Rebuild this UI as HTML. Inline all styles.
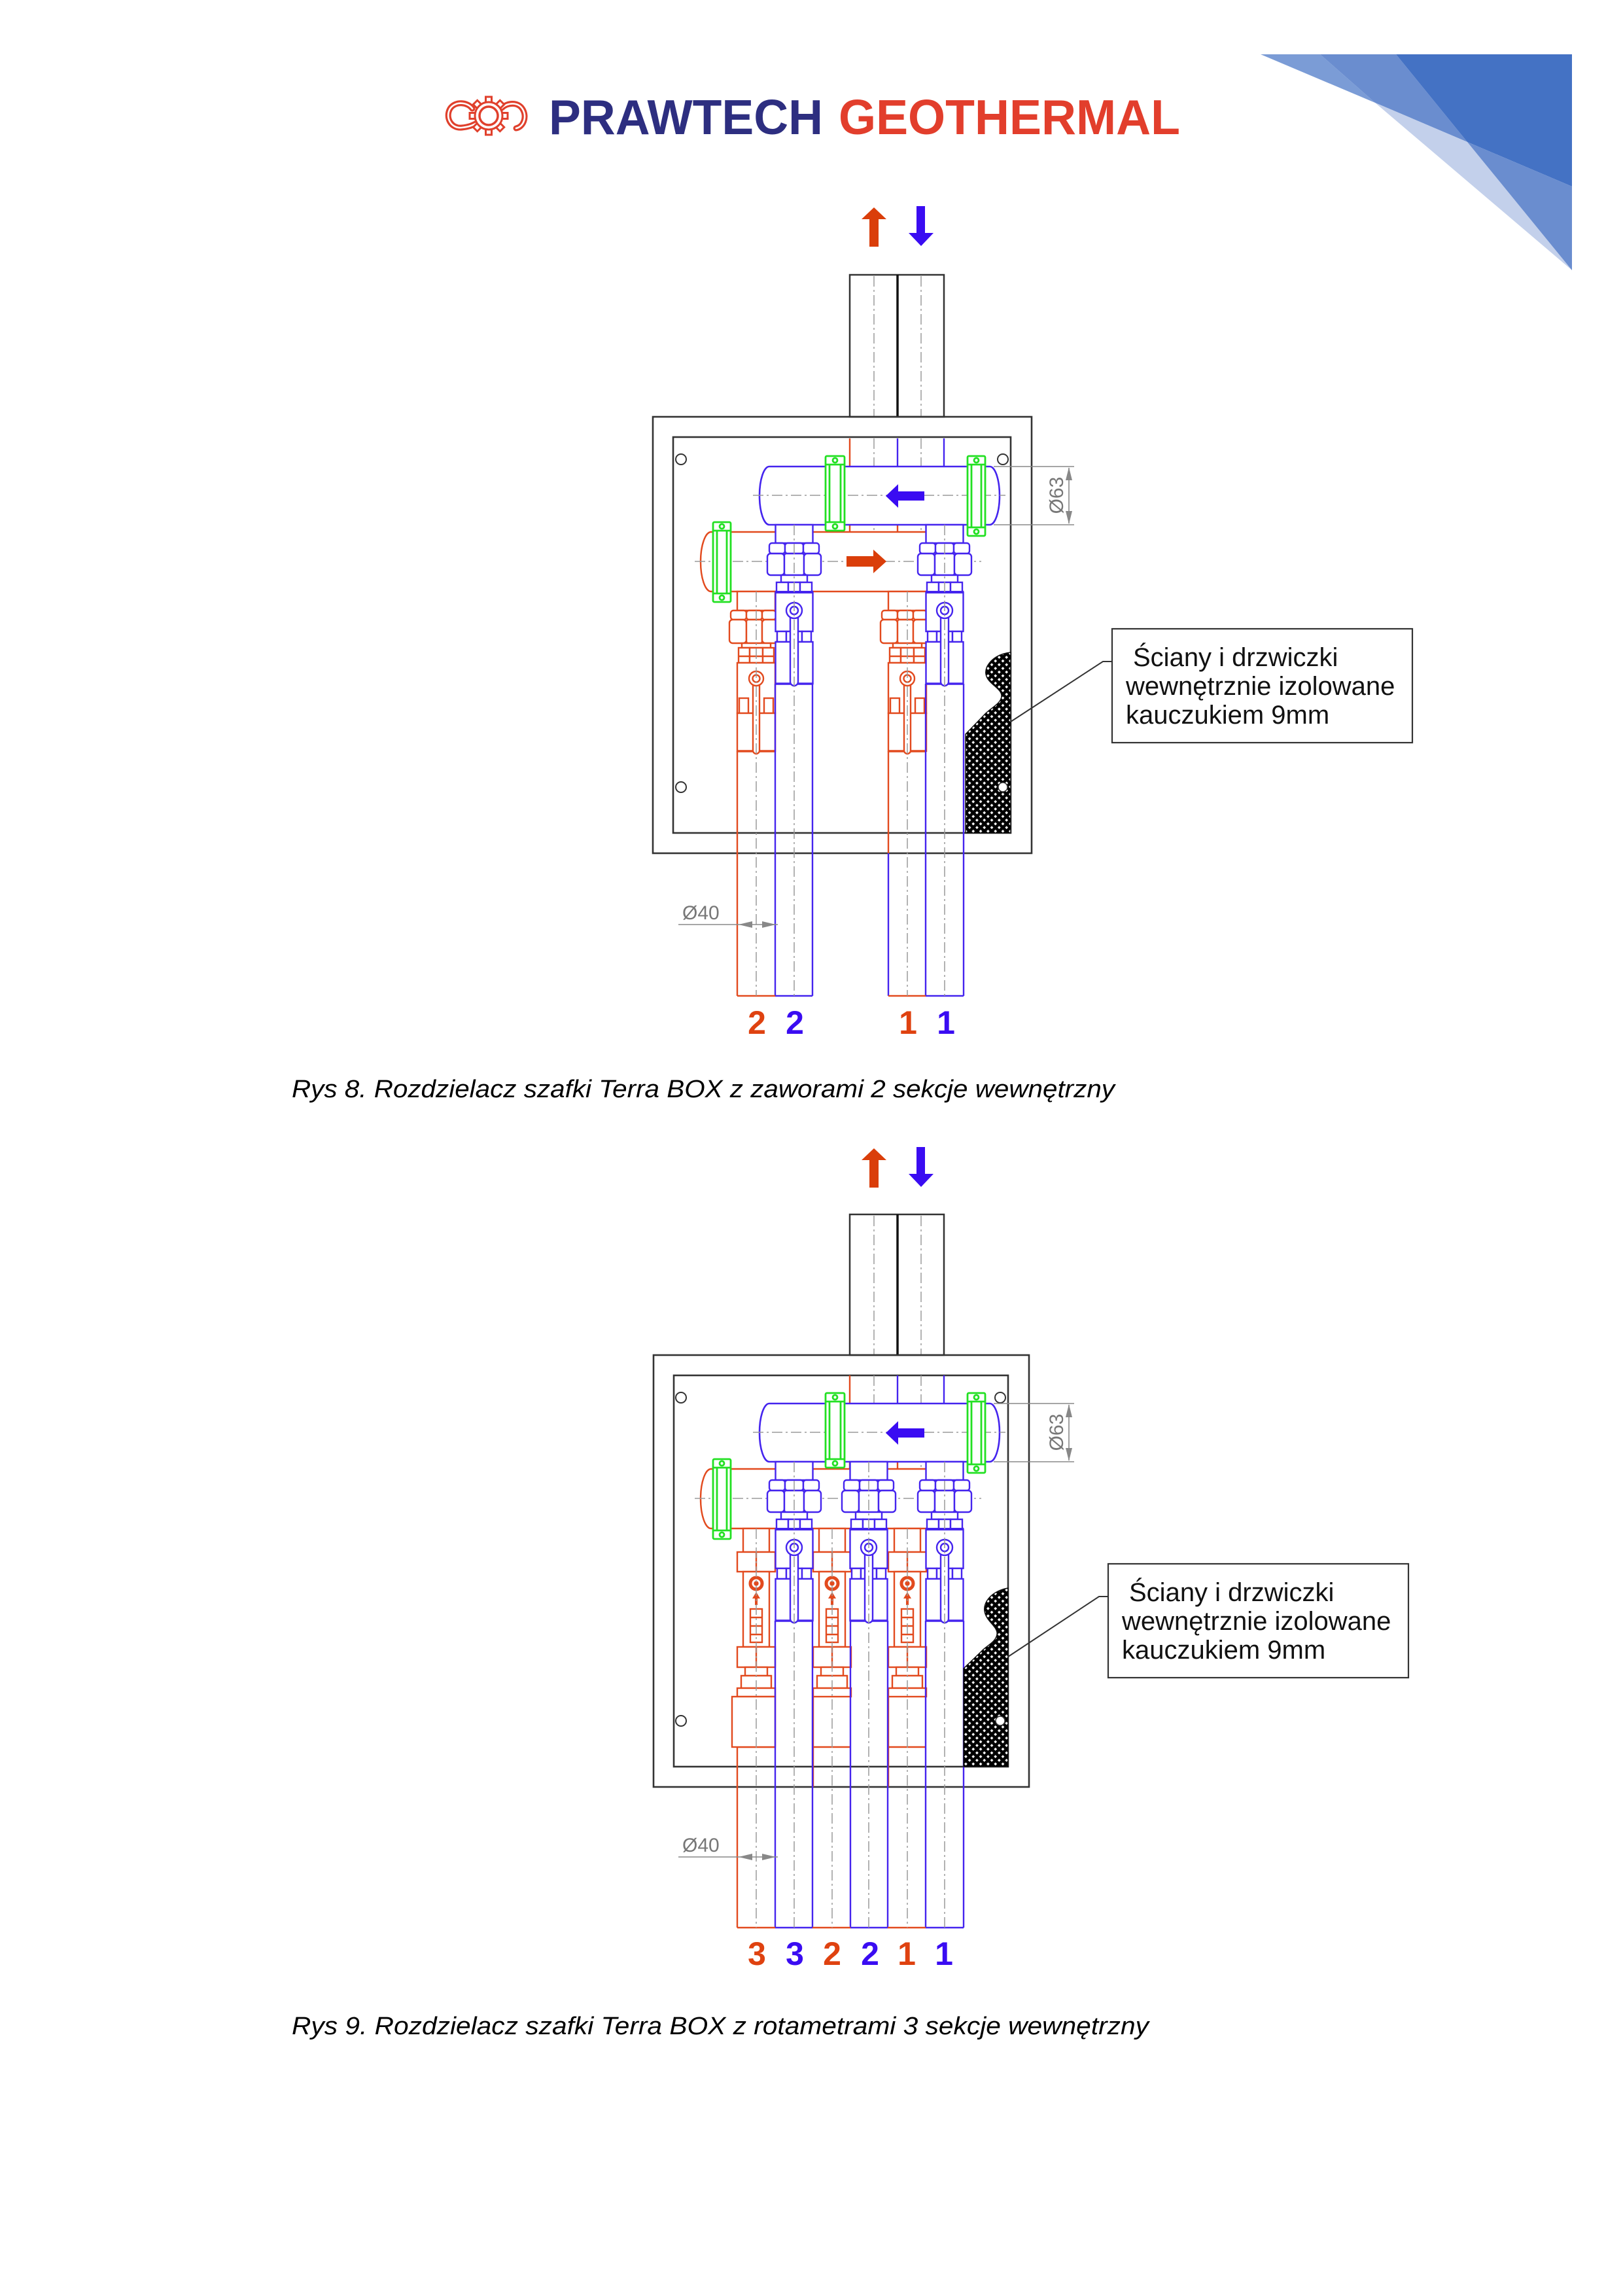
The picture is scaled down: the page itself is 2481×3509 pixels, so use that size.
<!DOCTYPE html>
<html><head><meta charset="utf-8"><title>Terra BOX</title>
<style>
html,body{margin:0;padding:0;background:#fff;}
svg{display:block;}
</style></head><body>
<svg xmlns="http://www.w3.org/2000/svg" width="2481" height="3509" viewBox="0 0 2481 3509">
<defs>
 <pattern id="hx" width="8" height="8" patternUnits="userSpaceOnUse" patternTransform="rotate(45)">
  <rect width="8" height="8" fill="#fff"/>
  <rect width="8" height="4.6" fill="#000"/>
  <rect width="4.6" height="8" fill="#000"/>
 </pattern>

 <g id="bn" fill="#fff" stroke="#4424EE" stroke-width="2.4">
  <rect x="-28.5" y="0" width="57" height="28"/>
  <rect x="-38" y="28" width="24" height="16" rx="4"/>
  <rect x="-14" y="28" width="28" height="16" rx="4"/>
  <rect x="14" y="28" width="24" height="16" rx="4"/>
  <rect x="-41" y="44" width="26" height="33" rx="5"/>
  <rect x="-15" y="44" width="30" height="33" rx="3"/>
  <rect x="15" y="44" width="26" height="33" rx="5"/>
  <rect x="-20" y="77" width="40" height="11"/>
  <rect x="-27" y="88" width="18" height="15"/>
  <rect x="-9" y="88" width="18" height="15"/>
  <rect x="9" y="88" width="18" height="15"/>
  <rect x="-28.5" y="103" width="57" height="60"/>
  <line x1="-29" y1="103" x2="29" y2="103" stroke-width="4"/>
  <rect x="-26" y="163" width="14" height="16"/>
  <rect x="-12" y="163" width="24" height="16"/>
  <rect x="12" y="163" width="14" height="16"/>
  <rect x="-28.5" y="179" width="57" height="64"/>
  <line x1="-28.5" y1="243" x2="28.5" y2="243" stroke-width="3.5"/>
  <rect x="-6" y="130" width="12" height="116" rx="6"/>
  <circle cx="0" cy="131" r="12"/>
  <circle cx="0" cy="131" r="6"/>
 </g>

 <g id="rv" fill="#fff" stroke="#E24A1E" stroke-width="2.4">
  <rect x="-29" y="0" width="58" height="29"/>
  <rect x="-39" y="29" width="24" height="14" rx="4"/>
  <rect x="-15" y="29" width="24" height="14" rx="4"/>
  <rect x="9" y="29" width="21" height="14" rx="4"/>
  <rect x="-41" y="43" width="26" height="36" rx="5"/>
  <rect x="-15" y="43" width="24" height="36" rx="3"/>
  <rect x="9" y="43" width="23" height="36" rx="5"/>
  <rect x="-22" y="79" width="44" height="7"/>
  <rect x="-27" y="86" width="17" height="23"/>
  <rect x="-10" y="86" width="20" height="23"/>
  <rect x="10" y="86" width="17" height="23"/>
  <line x1="-27" y1="99" x2="27" y2="99"/>
  <rect x="-29" y="109" width="58" height="77"/>
  <rect x="-26" y="163" width="14" height="23"/>
  <rect x="12" y="163" width="14" height="23"/>
  <rect x="-29" y="186" width="58" height="58"/>
  <line x1="-29" y1="244" x2="29" y2="244" stroke-width="3.5"/>
  <rect x="-5" y="130" width="10" height="118" rx="5"/>
  <circle cx="0" cy="133" r="11"/>
  <circle cx="0" cy="133" r="5.5"/>
 </g>

 <g id="rr" fill="#fff" stroke="#E24A1E" stroke-width="2.4">
  <rect x="-20" y="0" width="40" height="36"/>
  <rect x="-29" y="36" width="58" height="30"/>
  <line x1="0" y1="36" x2="0" y2="66"/>
  <rect x="-20" y="66" width="40" height="115"/>
  <circle cx="0" cy="84" r="9" stroke-width="5"/>
  <circle cx="0" cy="84" r="2.5" fill="#E24A1E"/>
  <polygon points="0,97 6,107 2,107 2,117 -2,117 -2,107 -6,107" fill="#E24A1E" stroke="none"/>
  <rect x="-9" y="123" width="18" height="51"/>
  <line x1="-9" y1="136" x2="9" y2="136"/>
  <line x1="-9" y1="149" x2="9" y2="149"/>
  <line x1="-9" y1="162" x2="9" y2="162"/>
  <rect x="-29" y="181" width="58" height="31"/>
  <line x1="0" y1="181" x2="0" y2="212"/>
  <rect x="-17" y="212" width="34" height="13"/>
  <rect x="-23" y="225" width="46" height="19"/>
  <rect x="-29" y="244" width="58" height="13"/>
  <line x1="-29" y1="334" x2="29" y2="334"/>
 </g>

 <g id="mani">
  <g fill="none" stroke-width="2.4">
   <line x1="1299" y1="2102" x2="1299" y2="2245" stroke="#E24A1E"/>
   <line x1="1372" y1="2102" x2="1372" y2="2145" stroke="#4424EE"/>
   <line x1="1443" y1="2102" x2="1443" y2="2145" stroke="#4424EE"/>
   <line x1="1372" y1="2234" x2="1372" y2="2245" stroke="#E24A1E"/>
  </g>
  <g stroke="#9a9a9a" stroke-width="1.5" stroke-dasharray="16 5 3 5" fill="none">
   <line x1="1336" y1="2102" x2="1336" y2="2245"/>
   <line x1="1408" y1="2102" x2="1408" y2="2245"/>
  </g>
  <path d="M1087,2245 H1415 M1087,2336 H1473 M1087,2245 A16,45.5 0 0 0 1087,2336" fill="none" stroke="#E24A1E" stroke-width="2.4"/>
  <line x1="1062" y1="2290" x2="1500" y2="2290" stroke="#9a9a9a" stroke-width="1.5" stroke-dasharray="16 5 3 5"/>
  <path d="M1176,2145 L1513,2145 A15,44.5 0 0 1 1513,2234 L1176,2234 A15,44.5 0 0 1 1176,2145 Z" fill="#fff" stroke="#4424EE" stroke-width="2.6"/>
  <line x1="1151" y1="2189" x2="1537" y2="2189" stroke="#9a9a9a" stroke-width="1.5" stroke-dasharray="16 5 3 5"/>
  <polygon points="1354,2190 1373,2172 1373,2183 1413,2183 1413,2197 1373,2197 1373,2208" fill="#3A0CF2"/>
  <g stroke="#888" stroke-width="1.6">
   <line x1="1519" y1="2145" x2="1642" y2="2145"/>
   <line x1="1519" y1="2234" x2="1642" y2="2234"/>
   <line x1="1634" y1="2147" x2="1634" y2="2232"/>
  </g>
  <polygon points="1634,2146 1629,2166 1639,2166" fill="#888"/>
  <polygon points="1634,2233 1629,2213 1639,2213" fill="#888"/>
  <text transform="translate(1625,2189) rotate(-90)" text-anchor="middle" font-family="Liberation Sans, Arial, sans-serif" font-size="30" fill="#777">Ø63</text>
  <g stroke="#22E022" fill="#fff" stroke-width="2.8">
   <rect x="1262" y="2129" width="29" height="114" rx="2"/>
   <line x1="1262" y1="2142" x2="1291" y2="2142"/><line x1="1262" y1="2230" x2="1291" y2="2230"/>
   <line x1="1268" y1="2142" x2="1268" y2="2230"/><line x1="1285" y1="2142" x2="1285" y2="2230"/>
   <circle cx="1276.5" cy="2135.5" r="3.5"/><circle cx="1276.5" cy="2236.5" r="3.5"/>

   <rect x="1479" y="2129" width="27" height="122" rx="2"/>
   <line x1="1479" y1="2142" x2="1506" y2="2142"/><line x1="1479" y1="2238" x2="1506" y2="2238"/>
   <line x1="1485" y1="2142" x2="1485" y2="2238"/><line x1="1500" y1="2142" x2="1500" y2="2238"/>
   <circle cx="1492.5" cy="2135.5" r="3.5"/><circle cx="1492.5" cy="2244.5" r="3.5"/>

   <rect x="1090" y="2230" width="27" height="122" rx="2"/>
   <line x1="1090" y1="2243" x2="1117" y2="2243"/><line x1="1090" y1="2339" x2="1117" y2="2339"/>
   <line x1="1096" y1="2243" x2="1096" y2="2339"/><line x1="1111" y1="2243" x2="1111" y2="2339"/>
   <circle cx="1103.5" cy="2236.5" r="3.5"/><circle cx="1103.5" cy="2345.5" r="3.5"/>
  </g>
 </g>
</defs>

<rect width="2481" height="3509" fill="#fff"/>

<polygon points="1927,83 2018,83 2102,157" fill="#7B9CD6"/>
<polygon points="2018,83 2134,83 2243,217 2102,157" fill="#6A8DCF"/>
<polygon points="2134,83 2403,83 2403,285 2243,217" fill="#4472C4"/>
<polygon points="2102,157 2243,217 2403,413" fill="#C3D0EB"/>
<polygon points="2243,217 2403,285 2403,413" fill="#6A8DCF"/>

<g fill="none" stroke-linecap="round">
 <path d="M722,166 C715,156 696,154 688,166 C680,180 690,197 706,195 C716,194 721,192 727,189" stroke="#E0402C" stroke-width="9"/>
 <path d="M722,166 C715,156 696,154 688,166 C680,180 690,197 706,195 C716,194 721,192 727,189" stroke="#fff" stroke-width="2.6"/>
 <path d="M767,165 C775,157 792,155 799,167 C806,179 800,194 789,196" stroke="#E0402C" stroke-width="9"/>
 <path d="M767,165 C775,157 792,155 799,167 C806,179 800,194 789,196" stroke="#fff" stroke-width="2.6"/>
</g>
<g transform="translate(747,177)" fill="#fff" stroke="#E0402C" stroke-width="3">
 <rect x="-4.5" y="-29" width="9" height="10" transform="rotate(0)"/>
 <rect x="-4.5" y="-29" width="9" height="10" transform="rotate(45)"/>
 <rect x="-4.5" y="-29" width="9" height="10" transform="rotate(90)"/>
 <rect x="-4.5" y="-29" width="9" height="10" transform="rotate(135)"/>
 <rect x="-4.5" y="-29" width="9" height="10" transform="rotate(180)"/>
 <rect x="-4.5" y="-29" width="9" height="10" transform="rotate(225)"/>
 <rect x="-4.5" y="-29" width="9" height="10" transform="rotate(270)"/>
 <rect x="-4.5" y="-29" width="9" height="10" transform="rotate(315)"/>
 <circle r="21"/>
 <circle r="14" stroke-width="3.5"/>
</g>
<text x="839" y="205" font-family="Liberation Sans, Arial, sans-serif" font-weight="bold" font-size="75" fill="#2D2E80" textLength="419" lengthAdjust="spacingAndGlyphs">PRAWTECH</text>
<text x="1282" y="205" font-family="Liberation Sans, Arial, sans-serif" font-weight="bold" font-size="75" fill="#E23E2C" textLength="522" lengthAdjust="spacingAndGlyphs">GEOTHERMAL</text>

<!-- DIAGRAM 1 -->
<polygon points="1336,317 1355,335 1343,335 1343,377 1329,377 1329,335 1317,335" fill="#DA3E0A"/>
<polygon points="1401,315 1414,315 1414,356 1427,356 1408,376 1389,356 1401,356" fill="#3A0CF2"/>
<rect x="1299" y="420" width="144" height="217" fill="none" stroke="#333" stroke-width="2.5"/>
<line x1="1372" y1="420" x2="1372" y2="637" stroke="#111" stroke-width="3.5"/>
<g stroke="#9a9a9a" stroke-width="1.5" stroke-dasharray="16 5 3 5">
 <line x1="1336" y1="422" x2="1336" y2="637"/>
 <line x1="1408" y1="422" x2="1408" y2="637"/>
</g>
<rect x="998" y="637" width="579" height="667" fill="none" stroke="#333" stroke-width="2.6"/>
<rect x="1029" y="668" width="516" height="605" fill="none" stroke="#333" stroke-width="2.6"/>
<g fill="#fff" stroke="#333" stroke-width="2">
 <circle cx="1041" cy="702" r="8"/><circle cx="1533" cy="702" r="8"/><circle cx="1041" cy="1203" r="8"/>
</g>

<use href="#mani" transform="translate(0,-1432)"/>
<polygon points="1294,850 1335,850 1335,840 1355,858 1335,876 1335,866 1294,866" fill="#DA3E0A"/>

<use href="#rv" x="1156" y="904"/>
<use href="#rv" x="1387" y="904"/>
<use href="#bn" x="1214" y="802"/>
<use href="#bn" x="1444" y="802"/>

<g stroke-width="2.4" fill="none">
 <line x1="1127" y1="1148" x2="1127" y2="1522" stroke="#E24A1E"/>
 <line x1="1358" y1="1148" x2="1358" y2="1304" stroke="#E24A1E"/>
 <line x1="1358" y1="1304" x2="1358" y2="1522" stroke="#4424EE"/>
 <line x1="1185" y1="1045" x2="1185" y2="1522" stroke="#4424EE"/>
 <line x1="1242" y1="1045" x2="1242" y2="1522" stroke="#4424EE"/>
 <line x1="1415" y1="1045" x2="1415" y2="1522" stroke="#4424EE"/>
 <line x1="1473" y1="1045" x2="1473" y2="1522" stroke="#4424EE"/>
 <line x1="1127" y1="1522" x2="1185" y2="1522" stroke="#E24A1E"/>
 <line x1="1185" y1="1522" x2="1242" y2="1522" stroke="#4424EE"/>
 <line x1="1358" y1="1522" x2="1415" y2="1522" stroke="#E24A1E"/>
 <line x1="1415" y1="1522" x2="1473" y2="1522" stroke="#4424EE"/>
</g>
<g stroke="#9a9a9a" stroke-width="1.5" stroke-dasharray="16 5 3 5">
 <line x1="1156" y1="904" x2="1156" y2="1522"/>
 <line x1="1387" y1="904" x2="1387" y2="1522"/>
 <line x1="1214" y1="802" x2="1214" y2="1522"/>
 <line x1="1444" y1="802" x2="1444" y2="1522"/>
</g>

<path d="M1545,997 C1518,1000 1505,1018 1507,1030 C1509,1045 1532,1052 1531,1064 C1530,1076 1514,1082 1505,1092 L1476,1122 L1476,1273 L1545,1273 Z" fill="url(#hx)" stroke="#111" stroke-width="1.5"/>
<circle cx="1533" cy="1203" r="7" fill="#fff" stroke="#333" stroke-width="1.5"/>

<polyline points="1700,1011 1686,1011 1545,1103" fill="none" stroke="#333" stroke-width="2"/>
<rect x="1700" y="961" width="459" height="174" fill="#fff" stroke="#333" stroke-width="2.2"/>
<g font-family="Liberation Sans, Arial, sans-serif" font-size="40" fill="#111">
 <text x="1732" y="1018">Ściany i drzwiczki</text>
 <text x="1721" y="1062">wewnętrznie izolowane</text>
 <text x="1721" y="1106">kauczukiem 9mm</text>
</g>

<line x1="1037" y1="1413" x2="1189" y2="1413" stroke="#888" stroke-width="1.6"/>
<polygon points="1129,1413 1150,1408 1150,1418" fill="#888"/>
<polygon points="1186,1413 1165,1408 1165,1418" fill="#888"/>
<text x="1043" y="1405" font-family="Liberation Sans, Arial, sans-serif" font-size="30" fill="#777">Ø40</text>

<g font-family="Liberation Sans, Arial, sans-serif" font-weight="bold" font-size="50" text-anchor="middle">
 <text x="1157" y="1580" fill="#DF4210">2</text>
 <text x="1215" y="1580" fill="#3A0CF2">2</text>
 <text x="1388" y="1580" fill="#DF4210">1</text>
 <text x="1446" y="1580" fill="#3A0CF2">1</text>
</g>

<text x="446" y="1677" font-family="Liberation Sans, Arial, sans-serif" font-style="italic" font-size="38" fill="#000" textLength="1258" lengthAdjust="spacingAndGlyphs">Rys 8. Rozdzielacz szafki Terra BOX z zaworami 2 sekcje wewnętrzny</text>

<!-- DIAGRAM 2 -->
<polygon points="1336,1755 1355,1773 1343,1773 1343,1815 1329,1815 1329,1773 1317,1773" fill="#DA3E0A"/>
<polygon points="1401,1753 1414,1753 1414,1794 1427,1794 1408,1814 1389,1794 1401,1794" fill="#3A0CF2"/>
<rect x="1299" y="1856" width="144" height="215" fill="none" stroke="#333" stroke-width="2.5"/>
<line x1="1372" y1="1856" x2="1372" y2="2071" stroke="#111" stroke-width="3.5"/>
<g stroke="#9a9a9a" stroke-width="1.5" stroke-dasharray="16 5 3 5">
 <line x1="1336" y1="1858" x2="1336" y2="2071"/>
 <line x1="1408" y1="1858" x2="1408" y2="2071"/>
</g>
<rect x="999" y="2071" width="574" height="660" fill="none" stroke="#333" stroke-width="2.6"/>
<rect x="1030" y="2102" width="511" height="598" fill="none" stroke="#333" stroke-width="2.6"/>
<g fill="#fff" stroke="#333" stroke-width="2">
 <circle cx="1041" cy="2136" r="8"/><circle cx="1529" cy="2136" r="8"/><circle cx="1041" cy="2630" r="8"/>
</g>

<use href="#mani"/>

<use href="#rr" x="1156" y="2336"/>
<use href="#rr" x="1272" y="2336"/>
<use href="#rr" x="1387" y="2336"/>
<rect x="1119" y="2593" width="66" height="77" fill="#fff" stroke="#E24A1E" stroke-width="2.4"/>
<use href="#bn" x="1214" y="2234"/>
<use href="#bn" x="1328" y="2234"/>
<use href="#bn" x="1444" y="2234"/>

<g stroke-width="2.4" fill="none">
 <line x1="1127" y1="2670" x2="1127" y2="2946" stroke="#E24A1E"/>
 <line x1="1243" y1="2593" x2="1243" y2="2731" stroke="#E24A1E"/>
 <line x1="1358" y1="2593" x2="1358" y2="2731" stroke="#E24A1E"/>
 <line x1="1185" y1="2477" x2="1185" y2="2946" stroke="#4424EE"/>
 <line x1="1242" y1="2477" x2="1242" y2="2946" stroke="#4424EE"/>
 <line x1="1300" y1="2477" x2="1300" y2="2946" stroke="#4424EE"/>
 <line x1="1357" y1="2477" x2="1357" y2="2946" stroke="#4424EE"/>
 <line x1="1415" y1="2477" x2="1415" y2="2946" stroke="#4424EE"/>
 <line x1="1473" y1="2477" x2="1473" y2="2946" stroke="#4424EE"/>
 <line x1="1127" y1="2946" x2="1185" y2="2946" stroke="#E24A1E"/>
 <line x1="1185" y1="2946" x2="1242" y2="2946" stroke="#4424EE"/>
 <line x1="1242" y1="2946" x2="1300" y2="2946" stroke="#E24A1E"/>
 <line x1="1300" y1="2946" x2="1357" y2="2946" stroke="#4424EE"/>
 <line x1="1357" y1="2946" x2="1415" y2="2946" stroke="#E24A1E"/>
 <line x1="1415" y1="2946" x2="1473" y2="2946" stroke="#4424EE"/>
</g>
<g stroke="#9a9a9a" stroke-width="1.5" stroke-dasharray="16 5 3 5">
 <line x1="1156" y1="2336" x2="1156" y2="2946"/>
 <line x1="1272" y1="2336" x2="1272" y2="2946"/>
 <line x1="1387" y1="2336" x2="1387" y2="2946"/>
 <line x1="1214" y1="2234" x2="1214" y2="2946"/>
 <line x1="1328" y1="2234" x2="1328" y2="2946"/>
 <line x1="1444" y1="2234" x2="1444" y2="2946"/>
</g>

<path d="M1541,2427 C1514,2432 1503,2450 1505,2462 C1507,2478 1526,2486 1524,2498 C1522,2510 1508,2515 1500,2524 L1473,2550 L1473,2700 L1541,2700 Z" fill="url(#hx)" stroke="#111" stroke-width="1.5"/>
<circle cx="1529" cy="2630" r="7" fill="#fff" stroke="#333" stroke-width="1.5"/>

<polyline points="1694,2440 1680,2440 1541,2532" fill="none" stroke="#333" stroke-width="2"/>
<rect x="1694" y="2390" width="459" height="174" fill="#fff" stroke="#333" stroke-width="2.2"/>
<g font-family="Liberation Sans, Arial, sans-serif" font-size="40" fill="#111">
 <text x="1726" y="2447">Ściany i drzwiczki</text>
 <text x="1715" y="2491">wewnętrznie izolowane</text>
 <text x="1715" y="2535">kauczukiem 9mm</text>
</g>

<line x1="1037" y1="2838" x2="1189" y2="2838" stroke="#888" stroke-width="1.6"/>
<polygon points="1129,2838 1150,2833 1150,2843" fill="#888"/>
<polygon points="1186,2838 1165,2833 1165,2843" fill="#888"/>
<text x="1043" y="2830" font-family="Liberation Sans, Arial, sans-serif" font-size="30" fill="#777">Ø40</text>

<g font-family="Liberation Sans, Arial, sans-serif" font-weight="bold" font-size="50" text-anchor="middle">
 <text x="1157" y="3003" fill="#DF4210">3</text>
 <text x="1215" y="3003" fill="#3A0CF2">3</text>
 <text x="1272" y="3003" fill="#DF4210">2</text>
 <text x="1330" y="3003" fill="#3A0CF2">2</text>
 <text x="1386" y="3003" fill="#DF4210">1</text>
 <text x="1443" y="3003" fill="#3A0CF2">1</text>
</g>

<text x="446" y="3109" font-family="Liberation Sans, Arial, sans-serif" font-style="italic" font-size="38" fill="#000" textLength="1310" lengthAdjust="spacingAndGlyphs">Rys 9. Rozdzielacz szafki Terra BOX z rotametrami 3 sekcje wewnętrzny</text>
</svg>
</body></html>
